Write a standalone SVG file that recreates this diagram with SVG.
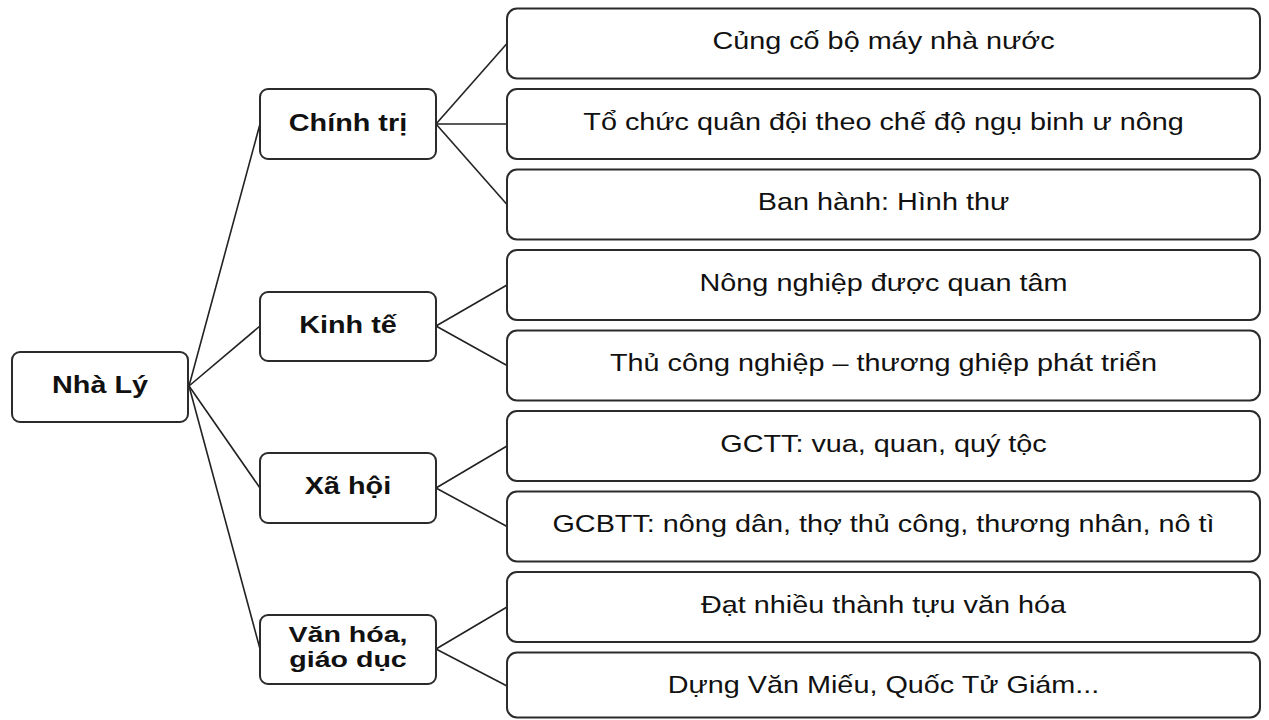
<svg xmlns="http://www.w3.org/2000/svg" width="1269" height="720" viewBox="0 0 1269 720">
<style>
.box{fill:#fff;stroke:#2b2b2b;stroke-width:2}
.lbl{font-family:"Liberation Sans",Arial,sans-serif;font-size:24px;fill:#111;text-anchor:middle}
.b{font-weight:bold}
.sm{font-size:22px}
.conn line{stroke:#222;stroke-width:1.6}
</style>
<rect width="1269" height="720" fill="#fff"/>
<g id="connectors" class="conn">
<line x1="189" y1="386" x2="260" y2="124"/>
<line x1="189" y1="386" x2="260" y2="326"/>
<line x1="189" y1="386" x2="260" y2="488"/>
<line x1="189" y1="386" x2="260" y2="649"/>
<line x1="436" y1="124" x2="507" y2="43.5"/>
<line x1="436" y1="124" x2="507" y2="124"/>
<line x1="436" y1="124" x2="507" y2="204.5"/>
<line x1="436" y1="326" x2="507" y2="285"/>
<line x1="436" y1="326" x2="507" y2="365.5"/>
<line x1="436" y1="488" x2="507" y2="446"/>
<line x1="436" y1="488" x2="507" y2="526.5"/>
<line x1="436" y1="649" x2="507" y2="607"/>
<line x1="436" y1="649" x2="507" y2="686"/>
</g>
<g id="root">
<rect class="box" x="12" y="352" width="176" height="70" rx="8"/>
<text class="lbl b" transform="translate(100 393) scale(1.2 1)">Nhà Lý</text>
</g>
<g id="chinh-tri">
<rect class="box" x="260" y="89" width="176" height="70" rx="8"/>
<text class="lbl b" transform="translate(348 131) scale(1.2 1)">Chính trị</text>
</g>
<g id="kinh-te">
<rect class="box" x="260" y="292" width="176" height="69" rx="8"/>
<text class="lbl b" transform="translate(348 333) scale(1.2 1)">Kinh tế</text>
</g>
<g id="xa-hoi">
<rect class="box" x="260" y="453" width="176" height="70" rx="8"/>
<text class="lbl b" transform="translate(348 494) scale(1.2 1)">Xã hội</text>
</g>
<g id="van-hoa">
<rect class="box" x="260" y="615" width="176" height="69" rx="8"/>
<text class="lbl b sm" transform="translate(348 642) scale(1.3 1)">Văn hóa,</text>
<text class="lbl b sm" transform="translate(348 667) scale(1.3 1)">giáo dục</text>
</g>
<g id="leaf1">
<rect class="box" x="507" y="8.5" width="753" height="70" rx="10"/>
<text class="lbl" transform="translate(883.5 49) scale(1.2 1)">Củng cố bộ máy nhà nước</text>
</g>
<g id="leaf2">
<rect class="box" x="507" y="89" width="753" height="70" rx="10"/>
<text class="lbl" transform="translate(883.5 130) scale(1.2 1)">Tổ chức quân đội theo chế độ ngụ binh ư nông</text>
</g>
<g id="leaf3">
<rect class="box" x="507" y="169.5" width="753" height="70" rx="10"/>
<text class="lbl" transform="translate(883.5 210) scale(1.2 1)">Ban hành: Hình thư</text>
</g>
<g id="leaf4">
<rect class="box" x="507" y="250" width="753" height="70" rx="10"/>
<text class="lbl" transform="translate(883.5 291) scale(1.2 1)">Nông nghiệp được quan tâm</text>
</g>
<g id="leaf5">
<rect class="box" x="507" y="330.5" width="753" height="70" rx="10"/>
<text class="lbl" transform="translate(883.5 371) scale(1.2 1)">Thủ công nghiệp – thương ghiệp phát triển</text>
</g>
<g id="leaf6">
<rect class="box" x="507" y="411" width="753" height="70" rx="10"/>
<text class="lbl" transform="translate(883.5 452) scale(1.2 1)">GCTT: vua, quan, quý tộc</text>
</g>
<g id="leaf7">
<rect class="box" x="507" y="491.5" width="753" height="70" rx="10"/>
<text class="lbl" transform="translate(883.5 532) scale(1.2 1)">GCBTT: nông dân, thợ thủ công, thương nhân, nô tì</text>
</g>
<g id="leaf8">
<rect class="box" x="507" y="572" width="753" height="70" rx="10"/>
<text class="lbl" transform="translate(883.5 613) scale(1.2 1)">Đạt nhiều thành tựu văn hóa</text>
</g>
<g id="leaf9">
<rect class="box" x="507" y="652.5" width="753" height="65" rx="10"/>
<text class="lbl" transform="translate(883.5 693) scale(1.2 1)">Dựng Văn Miếu, Quốc Tử Giám...</text>
</g>
</svg>
